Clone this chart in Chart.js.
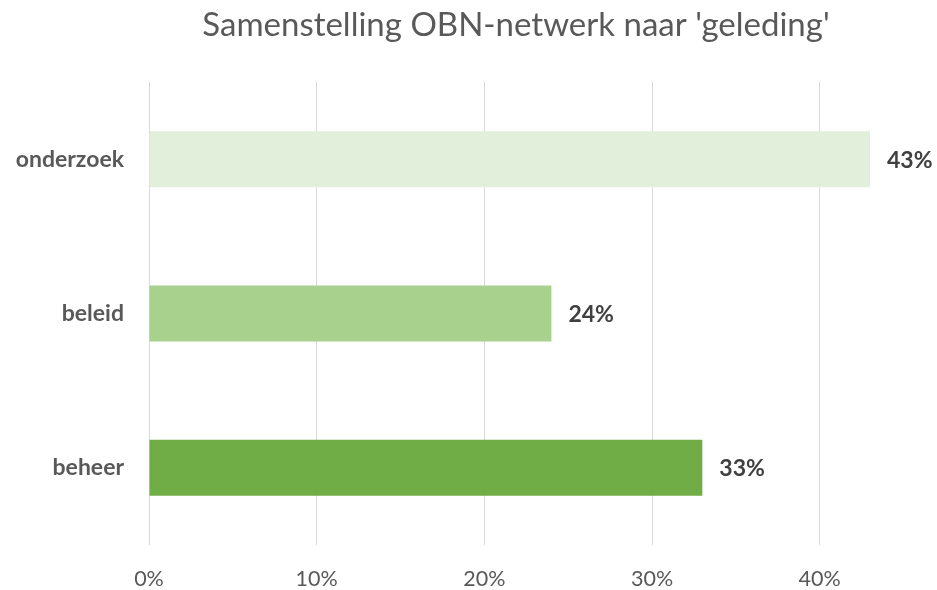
<!DOCTYPE html>
<html>
<head>
<meta charset="utf-8">
<script src="https://cdn.jsdelivr.net/npm/chart.js@4"></script>
<style>
html,body{margin:0;padding:0;background:#fff;}
#wrap{width:937px;height:590px;}
</style>
</head>
<body>
<div id="wrap"><canvas id="c" width="937" height="590"></canvas></div>
<script>
const categories = ['onderzoek', 'beleid', 'beheer'];
const values = [43, 24, 33];
const barColors = ['#E2EFDA', '#A9D18E', '#70AD47'];
const tickValues = [0, 10, 20, 30, 40];
const chartTitle = "Samenstelling OBN-netwerk naar 'geleding'";

const FONT = 'Lato, "Open Sans", sans-serif';

const labelPlugin = {
  id: 'barLabels',
  afterDatasetsDraw(chart) {
    const ctx = chart.ctx;
    const meta = chart.getDatasetMeta(0);
    ctx.save();
    ctx.font = 'bold 23px ' + FONT;
    ctx.fillStyle = '#404040';
    ctx.textAlign = 'left';
    ctx.textBaseline = 'middle';
    meta.data.forEach((el, i) => {
      ctx.fillText(values[i] + '%', el.x + 17, el.y + 1);
    });
    ctx.restore();
  }
};

const titlePlugin = {
  id: 'customTitle',
  afterDraw(chart) {
    const ctx = chart.ctx;
    ctx.save();
    ctx.font = '33px ' + FONT;
    ctx.fillStyle = '#595959';
    ctx.textAlign = 'center';
    ctx.textBaseline = 'alphabetic';
    ctx.fillText(chartTitle, 516, 36);
    ctx.restore();
  }
};

new Chart(document.getElementById('c'), {
  type: 'bar',
  data: {
    labels: categories,
    datasets: [{
      data: values,
      backgroundColor: barColors,
      borderWidth: 0,
      barPercentage: 0.363,
      categoryPercentage: 1
    }]
  },
  options: {
    indexAxis: 'y',
    responsive: false,
    animation: false,
    devicePixelRatio: 1,
    layout: { padding: { left: 0, right: 67, top: 82, bottom: 0 } },
    plugins: {
      legend: { display: false },
      tooltip: { enabled: false },
      title: { display: false }
    },
    scales: {
      x: {
        min: 0,
        max: 43,
        afterBuildTicks: (axis) => { axis.ticks = tickValues.map(v => ({ value: v })); },
        afterFit: (scale) => { scale.height = 45; },
        grid: { color: '#D9D9D9', lineWidth: 1, drawTicks: false },
        border: { display: false },
        ticks: {
          padding: 21,
          color: '#595959',
          font: { family: FONT, size: 21.5 },
          callback: (v) => v + '%'
        }
      },
      y: {
        afterFit: (scale) => { scale.width = 149; },
        grid: { display: false, drawTicks: false },
        border: { display: false },
        ticks: {
          padding: 25,
          color: '#595959',
          font: { family: FONT, size: 23, weight: 'bold' }
        }
      }
    }
  },
  plugins: [labelPlugin, titlePlugin]
});
</script>
</body>
</html>
